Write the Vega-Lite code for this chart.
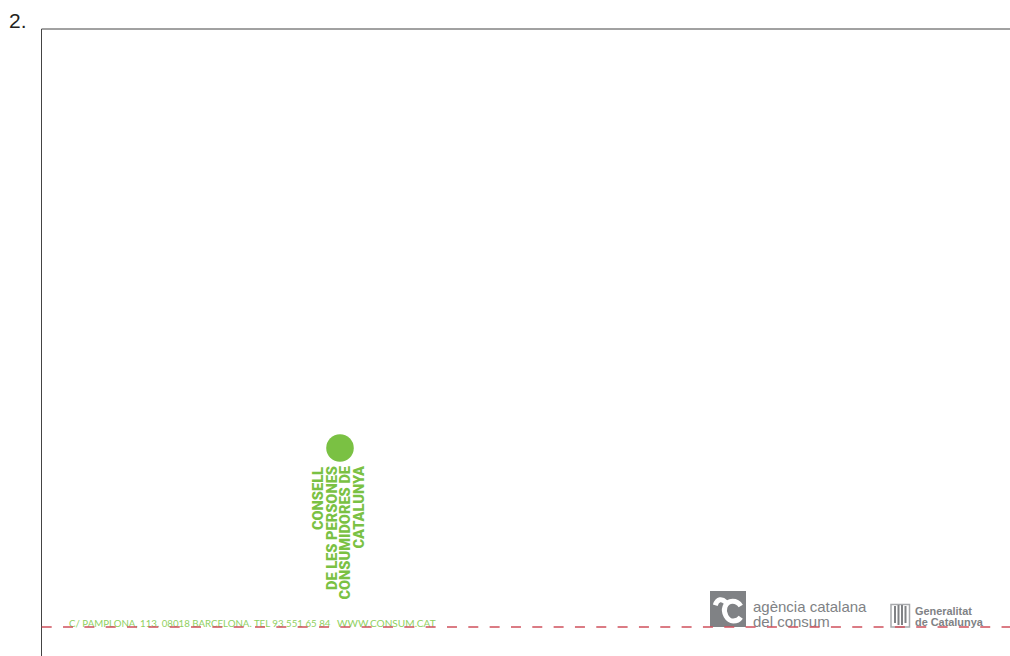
{"$schema":"https://vega.github.io/schema/vega-lite/v6.json","width":1010,"height":656,"padding":0,"autosize":"none","background":"white","config":{"view":{"stroke":null}},
"datasets":{
"frame":[{"x":41.5,"y":29,"x2":1010,"y2":29},{"x":41.5,"y":29,"x2":41.5,"y2":656}],
"cut":[{"x":41.7,"y":627,"x2":1010,"y2":627}],
"box":[{"x":710,"y":591,"x2":746,"y2":627}],
"stripes":[{"x":895,"y":606,"y2":623},{"x":898.5,"y":605,"y2":625},{"x":902,"y":605,"y2":625},{"x":905.5,"y":606,"y2":623}],
"crest":[{"x":891,"y":604.5,"x2":909.5,"y2":627}],
"dot":[{"x":340,"y":448}],
"mark":[{"x":728,"y":609}],
"green":[{"x":319,"y":467,"t":"CONSELL"},{"x":332.5,"y":466,"t":"DE LES PERSONES"},{"x":346,"y":466,"t":"CONSUMIDORES DE"},{"x":360,"y":466,"t":"CATALUNYA"}],
"addr":[{"x":69,"y":624,"t":"C/ PAMPLONA, 113. 08018 BARCELONA. TEL 93 551 65 84"}],
"web":[{"x":337,"y":624,"t":"WWW.CONSUM.CAT"}],
"agency":[{"x":753,"y":606.5,"t":"agència catalana"},{"x":753,"y":621.5,"t":"del consum"}],
"gen":[{"x":915,"y":612,"t":"Generalitat"},{"x":915,"y":623,"t":"de Catalunya"}],
"num":[{"x":9,"y":22,"t":"2."}]
},
"encoding":{"x":{"field":"x","type":"quantitative","scale":{"domain":[0,1010],"range":[0,1010],"nice":false,"zero":false},"axis":null},"y":{"field":"y","type":"quantitative","scale":{"domain":[0,656],"range":[0,656],"nice":false,"zero":false},"axis":null}},
"layer":[
{"data":{"name":"frame"},"mark":{"type":"rule","color":"#444444","strokeWidth":1},"encoding":{"x2":{"field":"x2"},"y2":{"field":"y2"}}},
{"data":{"name":"box"},"mark":{"type":"rect","color":"#808285"},"encoding":{"x2":{"field":"x2"},"y2":{"field":"y2"}}},
{"data":{"name":"mark"},"mark":{"type":"point","filled":false,"stroke":"white","strokeWidth":5,"size":900,"opacity":1,"shape":"M-0.85 -0.25C-0.7 -0.7 -0.4 -0.7 -0.15 -0.45M0.85 -0.2C0.6 -0.6 0 -0.65 -0.2 -0.15C-0.35 0.25 -0.05 0.8 0.35 0.8C0.6 0.8 0.75 0.7 0.85 0.55"}},
{"data":{"name":"agency"},"mark":{"type":"text","align":"left","baseline":"middle","font":"Liberation Sans","fontSize":15,"color":"#808285"},"encoding":{"text":{"field":"t"}}},
{"data":{"name":"gen"},"mark":{"type":"text","align":"left","baseline":"middle","font":"Liberation Sans","fontSize":10.9,"fontWeight":"bold","color":"#808285"},"encoding":{"text":{"field":"t"}}},
{"data":{"name":"crest"},"mark":{"type":"rect","fill":"white","stroke":"#a7a9ac","strokeWidth":1.5},"encoding":{"x2":{"field":"x2"},"y2":{"field":"y2"}}},
{"data":{"name":"stripes"},"mark":{"type":"rule","color":"#808285","strokeWidth":2},"encoding":{"y2":{"field":"y2"}}},
{"data":{"name":"dot"},"mark":{"type":"point","filled":true,"shape":"circle","color":"#7ac143","size":760,"opacity":1}},
{"data":{"name":"green"},"mark":{"type":"text","angle":270,"align":"right","baseline":"middle","font":"Roboto","fontWeight":900,"fontSize":14.6,"color":"#7ac143"},"encoding":{"text":{"field":"t"}}},
{"data":{"name":"addr"},"mark":{"type":"text","align":"left","baseline":"middle","font":"Lato","fontSize":9.7,"color":"#8fd05f"},"encoding":{"text":{"field":"t"}}},
{"data":{"name":"web"},"mark":{"type":"text","align":"left","baseline":"middle","font":"Lato","fontSize":10.1,"color":"#8fd05f"},"encoding":{"text":{"field":"t"}}},
{"data":{"name":"num"},"mark":{"type":"text","align":"left","baseline":"middle","font":"Liberation Sans","fontSize":21,"color":"#231f20"},"encoding":{"text":{"field":"t"}}},
{"data":{"name":"cut"},"mark":{"type":"rule","color":"#d0505c","strokeWidth":1.6,"strokeDash":[10,11.33]},"encoding":{"x2":{"field":"x2"},"y2":{"field":"y2"}}}
]}
